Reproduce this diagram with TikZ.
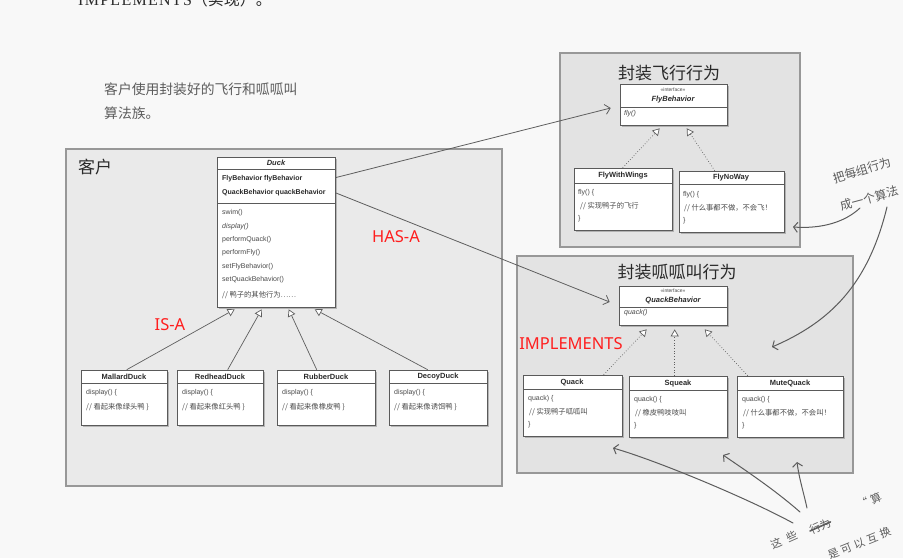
\documentclass[tikz,border=0pt]{standalone}
\usepackage{fontspec}
\setmainfont{Liberation Sans}
\newfontfamily\cjk{Noto Sans CJK SC}
\newfontfamily\lab{Noto Sans}
\newfontfamily\serifen[LetterSpace=8]{Liberation Serif}
\usetikzlibrary{arrows.meta,shadows,fit}
\definecolor{pagebg}{HTML}{F8F8F8}
\definecolor{grpfill}{HTML}{E3E3E3}
\definecolor{clientfill}{HTML}{EAEAEA}
\definecolor{grpline}{HTML}{989898}
\definecolor{clsline}{HTML}{5A5A5A}
\definecolor{txt}{HTML}{4A4A4A}
\definecolor{txtd}{HTML}{2A2A2A}
\definecolor{hand}{HTML}{5C5C5C}
\definecolor{arrowgray}{HTML}{5E5E5E}
\definecolor{labred}{HTML}{FF1E1E}
\tikzset{
  grp/.style={draw=grpline, line width=1.2pt, fill=grpfill, inner sep=0pt},
  cls/.style={draw=clsline, line width=0.6pt, fill=white, inner sep=0pt,
    drop shadow={shadow xshift=2pt, shadow yshift=-2pt, fill=black, opacity=0.22}},
  sep/.style={draw=clsline, line width=0.5pt},
  mtext/.style={anchor=west, inner sep=0pt, text=txt, font=\fontsize{7}{8.4}\selectfont},
  mital/.style={mtext, font=\fontsize{7}{8.4}\selectfont\itshape},
  mbold/.style={mtext, text=txtd, font=\fontsize{7}{8.4}\selectfont\bfseries},
  mcjk/.style={mtext, font=\cjk\fontsize{7.3}{8.4}\selectfont},
  mhead/.style={anchor=center, inner sep=0pt, text=txtd, font=\fontsize{7.5}{9}\selectfont\bfseries},
  mheadi/.style={mhead, font=\fontsize{7.5}{9}\selectfont\bfseries\itshape},
  stereo/.style={anchor=center, inner sep=0pt, text=txt, font=\fontsize{5}{6}\selectfont},
  gtitle/.style={anchor=center, inner sep=0pt, text=txtd, font=\cjk\fontsize{17}{20}\selectfont},
  redlab/.style={anchor=center, inner sep=0pt, text=labred, font=\lab\fontsize{16.5}{19}\selectfont},
  handtxt/.style={inner sep=0pt, text=hand, font=\cjk\fontsize{13.8}{16}\selectfont},
  isa/.style={draw=arrowgray, line width=0.7pt, -{Triangle[open, length=7pt, width=8pt, fill=white]}},
  impl/.style={isa, dotted},
  hasa/.style={draw=arrowgray, line width=0.8pt, -{Straight Barb[length=5pt, width=10pt]}},
  harrow/.style={draw=hand, line width=1pt, line cap=round, -{Straight Barb[length=4pt, width=10pt]}},
}
\begin{document}
\begin{tikzpicture}[x=1pt, y=-1pt]
\useasboundingbox (0,0) rectangle (903,558);
\clip (0,0) rectangle (903,558);
\fill[pagebg] (0,0) rectangle (903,558);

% cut-off text at the top
\node[anchor=base west, inner sep=0pt, text=txtd, font=\serifen\fontsize{16}{18}\selectfont] (toptxt) at (78,5) {IMPLEMENTS{\cjk（实现）。}};

% handwritten note top-left
\node[handtxt, anchor=west] (note1) at (104,89) {客户使用封装好的飞行和呱呱叫};
\node[handtxt, anchor=west] (note2) at (104,113) {算法族。};

% ===== groups =====
\node[grp, fill=clientfill, fit={(66,149)(502,486)}] (client) {};
\node[gtitle, anchor=west] (clientT) at (78,167) {客户};
\node[grp, fit={(560,53)(800,247)}] (flygrp) {};
\node[gtitle] (flyT) at (669,73) {封装飞行行为};
\node[grp, fit={(517,256)(853,473)}] (quackgrp) {};
\node[gtitle] (quackT) at (677,272) {封装呱呱叫行为};

% ===== Duck =====
\node[cls, fit={(217,157)(335,307)}] (duck) {};
\node[mheadi] (duckN) at (276,163) {Duck};
\draw[sep] (217,169) -- (335,169);
\node[mbold] (duckA1) at (222,179) {FlyBehavior flyBehavior};
\node[mbold] (duckA2) at (222,193) {QuackBehavior quackBehavior};
\draw[sep] (217,203) -- (335,203);
\node[mtext] (duckM1) at (222,213) {swim()};
\node[mital] (duckM2) at (222,227) {display()};
\node[mtext] (duckM3) at (222,240) {performQuack()};
\node[mtext] (duckM4) at (222,253) {performFly()};
\node[mtext] (duckM5) at (222,267) {setFlyBehavior()};
\node[mtext] (duckM6) at (222,280) {setQuackBehavior()};
\node[mcjk] (duckM7) at (222,295) {// 鸭子的其他行为……};

% ===== Duck subclasses =====
\node[cls, fit={(81,370)(167,425)}] (mallard) {};
\node[mhead] (mallardN) at (124,377) {MallardDuck};
\draw[sep] (81,383) -- (167,383);
\node[mtext] (mallardB1) at (86,393) {display() \{};
\node[mcjk] (mallardB2) at (86,407) {// 看起来像绿头鸭 \}};

\node[cls, fit={(177,370)(263,425)}] (redhead) {};
\node[mhead] (redheadN) at (220,377) {RedheadDuck};
\draw[sep] (177,383) -- (263,383);
\node[mtext] (redheadB1) at (182,393) {display() \{};
\node[mcjk] (redheadB2) at (182,407) {// 看起来像红头鸭 \}};

\node[cls, fit={(277,370)(375,425)}] (rubber) {};
\node[mhead] (rubberN) at (326,377) {RubberDuck};
\draw[sep] (277,383) -- (375,383);
\node[mtext] (rubberB1) at (282,393) {display() \{};
\node[mcjk] (rubberB2) at (282,407) {// 看起来像橡皮鸭 \}};

\node[cls, fit={(389,370)(487,425)}] (decoy) {};
\node[mhead] (decoyN) at (438,377) {DecoyDuck};
\draw[sep] (389,383) -- (487,383);
\node[mtext] (decoyB1) at (394,393) {display() \{};
\node[mcjk] (decoyB2) at (394,407) {// 看起来像诱饵鸭 \}};

% ===== Fly behaviours =====
\node[cls, fit={(620,84)(727,125)}] (flybeh) {};
\node[stereo] (flybehS) at (673,90) {\textless\textless interface\textgreater\textgreater};
\node[mheadi] (flybehN) at (673,100) {FlyBehavior};
\draw[sep] (620,107) -- (727,107);
\node[mital] (flybehM) at (624,114) {fly()};

\node[cls, fit={(574,168)(672,230)}] (wings) {};
\node[mhead] (wingsN) at (623,176) {FlyWithWings};
\draw[sep] (574,183) -- (672,183);
\node[mtext] (wingsB1) at (578,193) {fly() \{};
\node[mcjk] (wingsB2) at (580,206) {// 实现鸭子的飞行};
\node[mtext] (wingsB3) at (578,219) {\}};

\node[cls, fit={(679,171)(784,232)}] (noway) {};
\node[mhead] (nowayN) at (731,178) {FlyNoWay};
\draw[sep] (679,184) -- (784,184);
\node[mtext] (nowayB1) at (683,195) {fly() \{};
\node[mcjk] (nowayB2) at (684,208) {// 什么事都不做，不会飞！};
\node[mtext] (nowayB3) at (683,221) {\}};

% ===== Quack behaviours =====
\node[cls, fit={(619,286)(727,325)}] (quackbeh) {};
\node[stereo] (quackbehS) at (673,291) {\textless\textless interface\textgreater\textgreater};
\node[mheadi] (quackbehN) at (673,301) {QuackBehavior};
\draw[sep] (619,307) -- (727,307);
\node[mital] (quackbehM) at (624,313) {quack()};

\node[cls, fit={(523,375)(622,436)}] (quack) {};
\node[mhead] (quackN) at (572,383) {Quack};
\draw[sep] (523,389) -- (622,389);
\node[mtext] (quackB1) at (528,399) {quack) \{};
\node[mcjk] (quackB2) at (529,412) {// 实现鸭子呱呱叫};
\node[mtext] (quackB3) at (528,425) {\}};

\node[cls, fit={(629,376)(727,437)}] (squeak) {};
\node[mhead] (squeakN) at (678,384) {Squeak};
\draw[sep] (629,390) -- (727,390);
\node[mtext] (squeakB1) at (634,400) {quack() \{};
\node[mcjk] (squeakB2) at (635,413) {// 橡皮鸭吱吱叫};
\node[mtext] (squeakB3) at (634,426) {\}};

\node[cls, fit={(737,376)(843,437)}] (mute) {};
\node[mhead] (muteN) at (790,384) {MuteQuack};
\draw[sep] (737,390) -- (843,390);
\node[mtext] (muteB1) at (742,400) {quack() \{};
\node[mcjk] (muteB2) at (743,413) {// 什么事都不做，不会叫！};
\node[mtext] (muteB3) at (742,426) {\}};

% ===== IS-A =====
\draw[isa] ([xshift=46pt]mallard.north west) -- ([xshift=18pt, yshift=-2pt]duck.south west);
\draw[isa] ([xshift=51pt]redhead.north west) -- ([xshift=45pt, yshift=-2pt]duck.south west);
\draw[isa] ([xshift=40pt]rubber.north west) -- ([xshift=72pt, yshift=-2pt]duck.south west);
\draw[isa] ([xshift=39pt]decoy.north west) -- ([xshift=98pt, yshift=-2pt]duck.south west);

% ===== IMPLEMENTS =====
\draw[impl] ([xshift=49pt]wings.north west) -- ([xshift=40pt, yshift=-3pt]flybeh.south west);
\draw[impl] ([xshift=36pt]noway.north west) -- ([xshift=67pt, yshift=-3pt]flybeh.south west);
\draw[impl] ([xshift=81pt]quack.north west) -- ([xshift=28pt, yshift=-4pt]quackbeh.south west);
\draw[impl] ([xshift=46pt]squeak.north west) -- ([xshift=56pt, yshift=-4pt]quackbeh.south west);
\draw[impl] ([xshift=11pt]mute.north west) -- ([xshift=86pt, yshift=-4pt]quackbeh.south west);

% ===== HAS-A =====
\draw[hasa] ([yshift=-21pt]duck.north east) -- ([xshift=-9pt, yshift=-3.5pt]flybeh.west);
\draw[hasa] ([yshift=-36pt]duck.north east) -- ([xshift=-9pt, yshift=3.5pt]quackbeh.west);

% ===== red labels =====
\node[redlab] (isaL) at (170,325) {IS-A};
\node[redlab] (hasaL) at (396,237) {HAS-A};
\node[redlab] (implL) at (571,344) {IMPLEMENTS};

% ===== handwritten notes right =====
\node[handtxt, anchor=west, rotate=17, font=\cjk\fontsize{12}{14}\selectfont] (noteR1) at (833,179) {把每组行为};
\node[handtxt, anchor=west, rotate=15, font=\cjk\fontsize{12}{14}\selectfont] (noteR2) at (840,206) {成一个算法};
\coordinate (hA1s) at (860,208);
\coordinate (hA1e) at (793,227);
\coordinate (hA2s) at (887,207);
\coordinate (hA2e) at (772,347);
\draw[harrow] (hA1s) .. controls (845,222) and (822,229) .. (hA1e);
\draw[harrow] (hA2s) .. controls (868,285) and (830,322) .. (hA2e);

% ===== handwritten notes bottom =====
\node[handtxt, anchor=west, rotate=24, font=\cjk\fontsize{11}{13}\selectfont] (noteB1) at (771,546) {这\hspace{6pt}些};
\node[handtxt, anchor=west, rotate=24, font=\cjk\fontsize{11}{13}\selectfont] (noteB2) at (810,531) {行为};
\draw[hand, line width=1.6pt, line cap=round] (noteB2.west) -- (noteB2.east);
\node[handtxt, anchor=west, rotate=24, font=\cjk\fontsize{11}{13}\selectfont] (noteB3) at (858,506) {“\hspace{3pt}算};
\node[handtxt, anchor=west, rotate=22, font=\cjk\fontsize{11}{13}\selectfont] (noteB4) at (828,556) {是\hspace{3pt}可\hspace{3pt}以\hspace{3pt}互\hspace{3pt}换};
\coordinate (hB1s) at (793,523);
\coordinate (hB1e) at (613,448);
\coordinate (hB2s) at (800,512);
\coordinate (hB2e) at (723,455);
\coordinate (hB3s) at (807,508);
\coordinate (hB3e) at (797,462);
\draw[harrow] (hB1s) .. controls (745,497) and (655,460) .. (hB1e);
\draw[harrow] (hB2s) .. controls (775,490) and (745,470) .. (hB2e);
\draw[harrow] (hB3s) .. controls (803,490) and (799,478) .. (hB3e);
\end{tikzpicture}
\end{document}
